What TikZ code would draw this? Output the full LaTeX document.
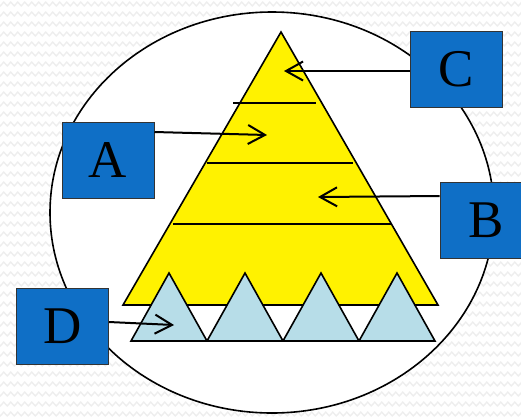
\documentclass[tikz,border=0pt]{standalone}
\usepackage{fontspec}
\setmainfont{Liberation Serif}
\usetikzlibrary{arrows.meta,decorations.pathmorphing}
\definecolor{boxblue}{HTML}{0F6FC6}
\definecolor{triblue}{HTML}{B7DDE8}
\definecolor{zz}{HTML}{EEEEEE}
\tikzset{
  bgzz/.style={draw=zz, line width=1.4pt, decorate, decoration={zigzag, segment length=7pt, amplitude=1.8pt}},
  letterbox/.style={draw=black!80, line width=1pt, fill=boxblue, minimum width=92pt, minimum height=76pt, inner sep=0pt, font=\fontsize{53}{60}\selectfont},
  pointer/.style={draw=black, line width=2pt, -{Straight Barb[length=17pt,width=19pt,line width=2pt]}},
  tier/.style={draw=black, line width=1.6pt},
  edge/.style={draw=black, line width=1.6pt, line join=miter}
}
\begin{document}
\begin{tikzpicture}[x=1pt,y=-1pt]
\useasboundingbox (0,0) rectangle (521,416);
\fill[white] (0,0) rectangle (521,416);
\foreach \r in {4,14,...,414} { \draw[bgzz] (-5,\r) -- (530,\r); }
% ellipse
\draw[line width=1.6pt, fill=white] (272,212.5) ellipse [x radius=222, y radius=200.5];
% yellow pyramid
\draw[edge, fill=yellow] (281,32) -- (438,305) -- (123,305) -- cycle;
\draw[tier] (233,103) -- (316,103);
\draw[tier] (207,163) -- (353,163);
\draw[tier] (173,224) -- (391,224);
% blue triangles
\foreach \a in {131,207,283,359} {
  \draw[edge, fill=triblue] (\a,341) -- ({\a+38},273) -- ({\a+76},341) -- cycle;
}
% targets
\coordinate (tC) at (284,71);
\coordinate (tA) at (267,135);
\coordinate (tB) at (318,197);
\coordinate (tD) at (174,325);
% boxes
\node[letterbox] (C) at (456,69.5) {C};
\node[letterbox] (A) at (108,160) {A};
\node[letterbox] (B) at (486,220) {B};
\node[letterbox] (D) at (62.5,326) {D};
% arrows
\draw[pointer] ([yshift=-1.5pt]C.west) -- (tC);
\draw[pointer] ([yshift=28pt]A.east) -- (tA);
\draw[pointer] ([yshift=24pt]B.west) -- (tB);
\draw[pointer] ([yshift=4pt]D.east) -- (tD);
\end{tikzpicture}
\end{document}
